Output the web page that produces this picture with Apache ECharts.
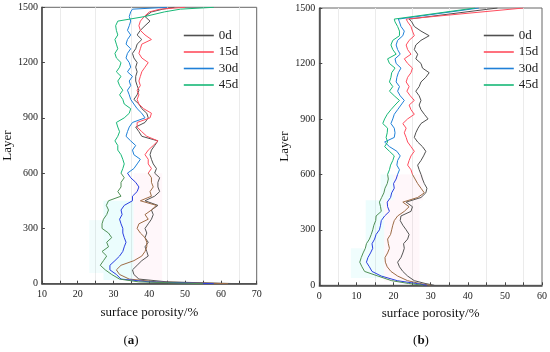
<!DOCTYPE html>
<html><head><meta charset="utf-8">
<script src="https://cdn.jsdelivr.net/npm/echarts@6/dist/echarts.min.js"></script>
<style>html,body{margin:0;padding:0;background:#fff}#c{width:550px;height:352px}</style>
</head><body><div id="c"></div><script>
// ---------- data ----------
const seriesNames = ['0d', '15d', '30d', '45d'];
const xTicksA = [10, 20, 30, 40, 50, 60, 70];
const xTicksB = [0, 10, 20, 30, 40, 50, 60];
const yTicks = [0, 300, 600, 900, 1200, 1500];

const layersA = [0,10,25,50,75,100,125,150,175,200,225,250,275,300,325,350,375,400,425,450,475,500,525,550,575,600,625,650,675,700,725,750,775,800,825,850,875,900,925,950,975,1000,1025,1050,1075,1100,1125,1150,1175,1200,1225,1250,1275,1300,1325,1350,1375,1400,1425,1450,1475,1490,1500];
const a0d  = [65,45,37.1,35.7,35.3,36.6,37.9,39.7,39.3,38.8,39.7,38.8,39.3,38.8,39.7,40.6,41.1,40.6,42.4,38.8,41.5,42.9,42.4,42.4,42.9,41.5,42.0,41.1,40.6,40.2,40.6,41.5,42.4,37.9,37.1,36.2,38.8,39.7,39.3,37.9,37.1,35.7,36.6,37.1,36.6,36.2,36.2,36.6,36.2,36.6,35.7,35.3,36.2,36.6,37.9,36.6,37.5,38.8,40.2,38.8,40.6,43.8,47];
const a15d = [62,42,34.4,31.7,30.8,32.1,35.7,37.9,38.8,39.3,39.3,38.8,37.5,36.6,37.1,39.7,38.8,40.6,42.0,37.5,40.6,40.2,41.1,40.6,40.6,39.7,40.6,39.7,39.7,38.8,39.7,41.1,42.4,39.3,37.9,36.6,36.6,40.2,40.6,38.4,37.1,36.6,37.1,36.6,37.5,37.1,37.5,37.9,38.8,39.7,37.9,37.1,37.5,37.9,40.6,38.8,37.5,37.1,37.5,38.6,40.0,43.0,50];
const a30d = [58,40,32.1,30.8,29.0,29.0,30.4,31.7,32.6,33.0,33.5,33.0,32.6,32.6,32.1,31.7,32.4,32.1,33.0,35.3,35.3,36.6,37.1,36.2,34.8,33.9,35.7,36.6,37.5,35.7,35.3,36.2,34.8,33.5,33.9,34.4,35.3,38.8,37.9,36.6,35.7,34.8,34.4,33.9,34.8,34.4,35.3,33.9,34.8,34.4,33.5,33.9,34.8,33.5,33.9,34.8,33.9,34.4,34.8,34.4,34.8,35.3,45];
const a45d = [55,37,31.7,29.5,27.7,26.3,27.2,28.1,26.8,28.6,28.1,29.5,28.6,26.8,26.8,27.2,28.1,28.6,28.0,28.6,32.1,31.2,32.1,32.1,33.0,32.1,32.6,33.0,32.6,32.1,31.2,31.2,30.4,31.2,31.7,31.2,30.8,33.0,34.4,34.8,33.0,32.6,31.7,32.6,31.7,31.2,32.1,30.8,31.7,32.1,30.8,30.4,31.2,30.8,30.4,31.2,30.8,30.6,31.2,38.8,44.2,48.7,58];

const layersB = [0,10,25,50,75,100,125,150,175,200,225,250,275,300,325,350,375,400,425,450,475,500,525,550,575,600,625,650,675,700,725,750,775,800,825,850,875,900,925,950,975,1000,1025,1050,1075,1100,1125,1150,1175,1200,1225,1250,1275,1300,1325,1350,1375,1400,1425,1440,1500];
const b0d  = [31,28.5,25.6,23.8,22.5,21.6,21.1,22.0,22.5,22.9,22.7,23.8,24.2,23.4,22.5,21.8,22.0,24.7,25.1,23.4,27.4,28.7,29.0,28.3,27.8,27.4,26.9,26.5,27.4,28.1,28.7,27.8,26.5,25.6,26.0,26.6,27.4,29.3,28.3,27.4,26.9,27.4,26.9,26.0,26.9,27.4,28.7,29.6,27.8,27.4,26.0,26.5,25.6,26.0,27.4,29.6,27.4,25.6,24.9,24.2,48];
const b15d = [30,27,23.8,21.1,19.3,18.3,17.8,17.7,18.4,18.9,18.6,18.4,19.2,19.5,19.8,20.2,21.1,22.9,24.2,22.5,26.5,28.3,27.4,26.5,25.8,25.1,24.7,23.8,24.2,24.7,25.6,24.7,23.8,23.4,22.9,23.4,22.5,23.8,25.6,24.7,24.2,25.6,24.5,23.6,24.2,23.4,23.8,24.7,25.1,23.8,22.9,24.7,23.8,23.4,24.2,25.6,25.1,24.7,23.8,23.4,55];
const b30d = [29,26,21.0,16.7,14.2,13.5,12.7,13.1,13.8,14.4,14.2,14.9,15.3,16.2,16.5,16.7,17.6,18.9,18.4,18.3,19.2,19.5,20.2,20.0,20.7,21.1,21.6,20.9,21.1,21.8,20.9,18.9,17.6,20.2,20.4,20.2,19.3,19.8,20.2,21.1,22.0,22.9,21.8,21.1,21.6,20.7,20.9,21.3,22.0,20.7,20.4,21.8,21.1,20.7,21.1,22.5,22.9,22.0,21.6,21.3,43];
const b45d = [28,24,19.5,15.8,12.2,11.5,10.9,11.3,11.8,12.4,12.7,13.5,14.0,14.4,14.7,15.2,15.3,16.7,16.5,16.2,16.8,17.4,17.7,18.3,18.6,18.4,18.9,19.2,19.8,20.2,18.9,17.6,18.4,18.0,18.3,18.4,17.1,17.6,18.3,19.3,20.4,21.6,20.2,18.9,19.8,18.9,19.3,19.5,20.4,18.9,18.4,20.7,19.8,19.3,19.8,21.6,21.6,21.1,20.4,20.2,42];

// ---------- styling ----------
const FONT = '"Liberation Serif","DejaVu Serif",serif';
const upperColors = ['#505050', '#ff4d5e', '#1f80d8', '#17b877'];
const lowerColors = ['#555555', '#9c6b45', '#2a3fe0', '#4f8f55'];
const SPLIT_LAYER = 600;

function pairs(layers, vals, part) {
  const out = [];
  for (let i = 0; i < layers.length; i++) {
    if (vals[i] === undefined) continue;
    const L = layers[i];
    if (part === 'lower' && L > SPLIT_LAYER) continue;
    if (part === 'upper' && L < SPLIT_LAYER) continue;
    out.push([vals[i], L]);
  }
  return out;
}

function xAxis(gi, ticks) {
  return {
    type: 'value', gridIndex: gi, min: ticks[0], max: ticks[ticks.length - 1], interval: 10,
    name: 'surface porosity/%', nameLocation: 'middle', nameGap: 22,
    nameTextStyle: { fontFamily: FONT, fontSize: 13, color: '#111' },
    axisLine: { onZero: false, lineStyle: { color: '#444', width: 1.5 } },
    axisTick: { inside: true, length: 3, lineStyle: { color: '#444' } },
    minorTick: { show: true, splitNumber: 2, length: 3, lineStyle: { color: '#444' } },
    splitLine: { show: false },
    minorSplitLine: { show: true, lineStyle: { color: '#ebebeb', width: 1 } },
    axisLabel: { fontFamily: FONT, fontSize: 10, color: '#222', margin: 6, formatter: v => String(v) }
  };
}
function yAxis(gi) {
  return {
    type: 'value', gridIndex: gi, min: yTicks[0], max: yTicks[yTicks.length - 1], interval: 300,
    name: 'Layer', nameLocation: 'middle', nameGap: 17, nameRotate: 90,
    nameTextStyle: { fontFamily: FONT, fontSize: 13, color: '#111' },
    axisLine: { onZero: false, lineStyle: { color: '#444', width: 1.5 } },
    axisTick: { inside: true, length: 3, lineStyle: { color: '#444' } },
    splitLine: { show: false },
    axisLabel: { fontFamily: FONT, fontSize: 10, color: '#222', margin: 4, formatter: v => String(v) }
  };
}

const panels = [
  { layers: layersA, vals: [a0d, a15d, a30d, a45d] },
  { layers: layersB, vals: [b0d, b15d, b30d, b45d] }
];

const areasA = [
  [{ coord: [27.2, 20], itemStyle: { color: 'rgba(0,225,225,0.08)' } }, { coord: [35.6, 450] }],
  [{ coord: [23.2, 58], itemStyle: { color: 'rgba(0,225,225,0.05)' } }, { coord: [27.2, 345] }],
  [{ coord: [35.6, 20], itemStyle: { color: 'rgba(255,120,170,0.06)' } }, { coord: [43.6, 600] }]
];
const areasB = [
  [{ coord: [8.5, 40], itemStyle: { color: 'rgba(0,225,225,0.06)' } }, { coord: [17.5, 200] }],
  [{ coord: [12.5, 200], itemStyle: { color: 'rgba(0,225,225,0.07)' } }, { coord: [17.5, 460] }],
  [{ coord: [16.5, 460], itemStyle: { color: 'rgba(0,225,225,0.06)' } }, { coord: [20, 600] }],
  [{ coord: [17.5, 20], itemStyle: { color: 'rgba(255,120,170,0.06)' } }, { coord: [27, 460] }],
  [{ coord: [20, 460], itemStyle: { color: 'rgba(255,120,170,0.06)' } }, { coord: [28, 600] }]
];

const series = [];
panels.forEach((p, gi) => {
  seriesNames.forEach((nm, si) => {
    series.push({
      type: 'line', name: nm, xAxisIndex: gi, yAxisIndex: gi, symbol: 'none', silent: true,
      lineStyle: { width: 1, color: upperColors[si] }, itemStyle: { color: upperColors[si] },
      data: pairs(p.layers, p.vals[si], 'upper'), animation: false
    });
  });
  seriesNames.forEach((nm, si) => {
    const s = {
      type: 'line', name: nm + ' ', xAxisIndex: gi, yAxisIndex: gi, symbol: 'none', silent: true,
      lineStyle: { width: 1, color: lowerColors[si] }, itemStyle: { color: lowerColors[si] },
      data: pairs(p.layers, p.vals[si], 'lower'), animation: false
    };
    if (si === 0) s.markArea = { silent: true, z: 0, data: gi === 0 ? areasA : areasB };
    series.push(s);
  });
});

function legend(left) {
  return {
    left: left, top: 24, orient: 'vertical', itemWidth: 30, itemHeight: 14, itemGap: 3.5,
    data: seriesNames, selectedMode: false,
    lineStyle: { width: 1.6 },
    itemStyle: { opacity: 0, borderWidth: 0 },
    textStyle: { fontFamily: FONT, fontSize: 13, color: '#222' }
  };
}

const option = {
  backgroundColor: '#fff',
  animation: false,
  grid: [
    { left: 32.3, top: 7.3, width: 224.4, height: 276.4, show: true, borderColor: '#666', borderWidth: 1 },
    { left: 319.3, top: 8, width: 224.4, height: 277.3, show: true, borderColor: '#666', borderWidth: 1 }
  ],
  xAxis: [xAxis(0, xTicksA), xAxis(1, xTicksB)],
  yAxis: [yAxis(0), yAxis(1)],
  legend: [legend(178), legend(478)],
  series: series,
  graphic: [
    { type: 'text', x: 131, y: 341, style: { text: '{p|(}{b|a}{p|)}', align: 'center', verticalAlign: 'middle',
      rich: { p: { fontFamily: FONT, fontSize: 13, fill: '#111' }, b: { fontFamily: FONT, fontSize: 13, fontWeight: 'bold', fill: '#111' } } } },
    { type: 'text', x: 421, y: 341, style: { text: '{p|(}{b|b}{p|)}', align: 'center', verticalAlign: 'middle',
      rich: { p: { fontFamily: FONT, fontSize: 13, fill: '#111' }, b: { fontFamily: FONT, fontSize: 13, fontWeight: 'bold', fill: '#111' } } } }
  ]
};

const chart = echarts.init(document.getElementById('c'), null, { renderer: 'canvas' });
chart.setOption(option);
</script></body></html>
